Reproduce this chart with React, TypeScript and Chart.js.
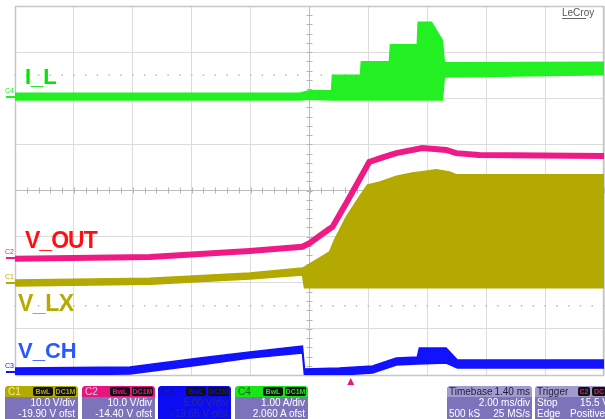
import React, { useEffect, useRef } from "react";
import { Chart, registerables } from "chart.js";

Chart.register(...registerables);

// ---------- scope settings ----------
const channelNames = ["C1", "C2", "C3", "C4"];
const channelScales = [10, 10, 5, 1]; // per division
const channelOffsets = [-19.9, -14.4, -19.65, 2.06];
const channelUnits = ["V", "V", "V", "A"];
const timePerDiv = 2.0; // ms/div
const triggerDelay = 1.4; // ms
const triggerLevel = 15.5; // V
const sampleCount = "500 kS";
const sampleRate = "25 MS/s";

// ---------- C1 : V_LX (V) ----------
const lxTime = [-10, -5.42, -2.03, -0.24, -0.17, 0.68, 0.85, 1.25, 1.69, 1.97, 2.37, 2.95, 3.49, 4.31, 4.75, 4.98, 5.76, 10];
const lxHigh = [0.5, 0.9, 2.0, 3.1, 3.3, 6.6, 9.2, 14.2, 18.5, 21.1, 21.7, 23.0, 23.7, 24.4, 23.9, 23.3, 23.3, 23.3];
const lxLow = [-0.8, -0.4, 0.7, 1.6, -1.2, -1.2, -1.2, -1.2, -1.2, -1.2, -1.2, -1.2, -1.2, -1.2, -1.2, -1.2, -1.2, -1.2];

// ---------- C2 : V_OUT (V) ----------
const outTime = [-10, -5.42, -2.03, -0.24, 0, 0.68, 0.78, 1.25, 2.03, 2.54, 2.95, 3.83, 4.64, 4.98, 5.76, 10];
const outValue = [-0.4, 0.0, 1.3, 2.2, 3.0, 6.1, 6.5, 11.7, 20.6, 21.7, 22.5, 23.6, 23.2, 22.5, 22.1, 21.9];

// ---------- C3 : V_CH (V) ----------
const chTime = [-10, -6.1, -3.73, -2.03, -0.24, -0.17, 1.02, 2.14, 2.95, 3.66, 3.73, 4.64, 5.02, 10];
const chHigh = [0.4, 0.51, 1.49, 2.14, 2.79, 0.29, 0.4, 0.62, 1.49, 1.59, 2.57, 2.57, 1.27, 1.27];
const chLow = [-0.36, -0.25, 0.73, 1.49, 2.03, -0.47, -0.36, -0.14, 0.73, 0.83, 0.83, 0.94, 0.4, 0.4];

// ---------- C4 : I_L (A) ----------
const ilTime = [-10, -0.34, 0, 0.75, 0.78, 1.73, 1.76, 2.71, 2.75, 3.66, 3.69, 4.14, 4.51, 4.58, 10];
const ilHigh = [0.05, 0.05, 0.1, 0.1, 0.44, 0.44, 0.73, 0.73, 1.1, 1.1, 1.59, 1.59, 1.2, 0.71, 0.72];
const ilLow = [-0.1, -0.1, -0.08, -0.1, -0.1, -0.1, -0.1, -0.1, -0.1, -0.1, -0.1, -0.1, -0.1, 0.4, 0.45];

// ---------- styles ----------
const COL_LX = "#b3a900";
const COL_OUT = "#f01a86";
const COL_CH = "#1212ff";
const COL_IL = "#22f022";
const FONT = '"Liberation Sans", Arial, Helvetica, sans-serif';
const hdrColors = ["#b3ab00", "#e4177f", "#0b0bf5", "#18e618"];
const nameColors = ["#f2ec98", "#ffc2e2", "#141478", "#0b6a0b"];
const boxLefts = [5, 82, 158, 235];

const pts = (t: number[], v: number[]) => t.map((x, i) => ({ x, y: v[i] }));

function band(t: number[], hi: number[], lo: number[], color: string, axis: string, w: number) {
  const base = {
    borderColor: color,
    backgroundColor: color,
    borderWidth: w,
    pointRadius: 0,
    tension: 0,
    yAxisID: axis,
    xAxisID: "x",
  };
  return [
    { ...base, data: pts(t, hi), fill: false },
    { ...base, data: pts(t, lo), fill: "-1" },
  ];
}

const chAxis = (i: number) => ({
  type: "linear" as const,
  display: false,
  min: -channelOffsets[i] - 4 * channelScales[i],
  max: -channelOffsets[i] + 4 * channelScales[i],
});

const scopePlugin = {
  id: "scopeDecor",
  beforeDatasetsDraw(chart: any) {
    const { ctx, chartArea: a, scales } = chart;
    const xs = scales.x;
    const ys = scales.yg;
    const cx = xs.getPixelForValue(0);
    const cy = ys.getPixelForValue(0);
    ctx.save();
    ctx.strokeStyle = "#b4b4b4";
    ctx.lineWidth = 1;
    ctx.beginPath();
    for (let k = -20; k <= 20; k++) {
      const y = Math.round(ys.getPixelForValue(k / 5)) + 0.5;
      ctx.moveTo(cx - 3, y);
      ctx.lineTo(cx + 3, y);
    }
    for (let k = -25; k <= 25; k++) {
      const x = Math.round(xs.getPixelForValue((k / 5) * timePerDiv)) + 0.5;
      ctx.moveTo(x, cy - 3);
      ctx.lineTo(x, cy + 3);
    }
    ctx.stroke();
    ctx.fillStyle = "#b8b8b8";
    for (const r of [2.5, -2.5]) {
      const y = ys.getPixelForValue(r);
      for (let k = -25; k <= 25; k++) {
        const x = xs.getPixelForValue((k / 5) * timePerDiv);
        ctx.fillRect(x - 0.75, y - 0.75, 1.5, 1.5);
      }
    }
    ctx.strokeStyle = "#c6c6c6";
    ctx.lineWidth = 1.5;
    ctx.strokeRect(a.left + 0.5, a.top + 0.5, a.right - a.left - 1, a.bottom - a.top);
    ctx.restore();
  },
  afterDraw(chart: any) {
    const { ctx, chartArea: a, scales } = chart;
    const x = scales.x.getPixelForValue(triggerDelay);
    ctx.save();
    ctx.fillStyle = "#e8157f";
    ctx.beginPath();
    ctx.moveTo(x, a.bottom + 3);
    ctx.lineTo(x - 3.5, a.bottom + 10);
    ctx.lineTo(x + 3.5, a.bottom + 10);
    ctx.closePath();
    ctx.fill();
    ctx.restore();
  },
};

function ChannelBox({ i }: { i: number }) {
  const isC3 = i === 2;
  const vdiv = `${channelScales[i].toPrecision(3)} ${channelUnits[i]}/div`;
  const ofst = `${channelOffsets[i].toPrecision(4)} ${channelUnits[i]} ofst`;
  const badge = (left: number, width: number, text: string) => (
    <span
      style={{
        position: "absolute",
        left,
        top: 1,
        width,
        height: 9,
        background: "#111",
        borderRadius: 2,
        color: hdrColors[i],
        fontSize: 7,
        lineHeight: "9px",
        textAlign: "center",
        fontWeight: "bold",
      }}
    >
      {text}
    </span>
  );
  return (
    <div
      style={{
        position: "absolute",
        left: boxLefts[i],
        top: 386,
        width: 73,
        height: 40,
        borderRadius: 4,
        background: isC3 ? "#0c0cf0" : "#7c73ba",
        overflow: "hidden",
      }}
    >
      <div style={{ position: "relative", height: 11, background: hdrColors[i] }}>
        <span style={{ position: "absolute", left: 3, top: 0, fontSize: 10, lineHeight: "11px", color: nameColors[i] }}>
          {channelNames[i]}
        </span>
        {badge(28, 20, "BwL")}
        {badge(50, 21, "DC1M")}
      </div>
      <div
        style={{
          textAlign: "right",
          paddingRight: 3,
          fontSize: 10,
          lineHeight: "11px",
          color: isC3 ? "#2a2a9c" : "#ffffff",
          whiteSpace: "nowrap",
        }}
      >
        <div>{vdiv}</div>
        <div>{ofst}</div>
      </div>
    </div>
  );
}

function Row({ l, r, top }: { l: string; r: string; top: number }) {
  return (
    <div style={{ position: "absolute", left: 2, right: 2, top, height: 11, fontSize: 10, lineHeight: "11px", color: "#fff", whiteSpace: "nowrap" }}>
      <span style={{ position: "absolute", left: 0 }}>{l}</span>
      <span style={{ position: "absolute", right: 0 }}>{r}</span>
    </div>
  );
}

function Label({ text, left, top, color, size, ls }: any) {
  return (
    <div
      style={{
        position: "absolute",
        left,
        top,
        color,
        fontSize: size,
        lineHeight: 1,
        fontWeight: "bold",
        letterSpacing: ls,
        whiteSpace: "nowrap",
      }}
    >
      {text}
    </div>
  );
}

function Marker({ name, top, color }: any) {
  return (
    <>
      <div style={{ position: "absolute", left: 5, top: top - 10, fontSize: 7, lineHeight: "8px", color }}>{name}</div>
      <div style={{ position: "absolute", left: 6, top: top - 1, width: 9, height: 2, background: color }} />
    </>
  );
}

export default function App() {
  const ref = useRef<HTMLCanvasElement | null>(null);

  useEffect(() => {
    document.body.style.margin = "0";
    if (!ref.current) return;
    const chart = new Chart(ref.current, {
      type: "line",
      data: {
        datasets: [
          ...band(lxTime, lxHigh, lxLow, COL_LX, "y1", 1.5),
          {
            data: pts(outTime, outValue),
            borderColor: COL_OUT,
            backgroundColor: COL_OUT,
            borderWidth: 6,
            pointRadius: 0,
            tension: 0,
            fill: false,
            yAxisID: "y2",
            xAxisID: "x",
          },
          ...band(chTime, chHigh, chLow, COL_CH, "y3", 1.5),
          ...band(ilTime, ilHigh, ilLow, COL_IL, "y4", 1.5),
        ] as any,
      },
      options: {
        animation: false,
        responsive: false,
        events: [],
        layout: { padding: { left: 15, top: 6, right: 1, bottom: 44 } },
        plugins: { legend: { display: false }, tooltip: { enabled: false } },
        scales: {
          x: {
            type: "linear",
            min: -5 * timePerDiv,
            max: 5 * timePerDiv,
            ticks: { display: false, stepSize: timePerDiv },
            grid: {
              drawTicks: false,
              color: (c: any) => (c.tick && c.tick.value === 0 ? "#bdbdbd" : "#dcdcdc"),
            },
            border: { display: false },
          },
          yg: {
            type: "linear",
            position: "left",
            min: -4,
            max: 4,
            ticks: { display: false, stepSize: 1 },
            grid: {
              drawTicks: false,
              color: (c: any) => (c.tick && c.tick.value === 0 ? "#bdbdbd" : "#dcdcdc"),
            },
            border: { display: false },
          },
          y1: chAxis(0),
          y2: chAxis(1),
          y3: chAxis(2),
          y4: chAxis(3),
        } as any,
      },
      plugins: [scopePlugin],
    });
    return () => chart.destroy();
  }, []);

  return (
    <div style={{ position: "relative", width: 605, height: 419, background: "#fff", overflow: "hidden", fontFamily: FONT }}>
      <canvas ref={ref} width={605} height={419} style={{ position: "absolute", left: 0, top: 0 }} />

      <div style={{ position: "absolute", left: 562, top: 7, fontSize: 10, lineHeight: "12px", color: "#555" }}>LeCroy</div>
      <div style={{ position: "absolute", left: 562, top: 18, width: 24, height: 1, background: "#666" }} />

      <Label text="I_L" left={25} top={66} color="#00e800" size={22} ls={0} />
      <Label text="V_OUT" left={25} top={229} color="#ff1010" size={23} ls={-1} />
      <Label text="V_LX" left={18} top={292} color="#b4aa00" size={23} ls={-0.5} />
      <Label text="V_CH" left={18} top={340} color="#2a5aff" size={22} ls={0} />

      <Marker name="C4" top={97} color={COL_IL} />
      <Marker name="C2" top={258} color={COL_OUT} />
      <Marker name="C1" top={283} color={COL_LX} />
      <Marker name="C3" top={372} color={COL_CH} />

      {[0, 1, 2, 3].map((i) => (
        <ChannelBox key={i} i={i} />
      ))}

      <div style={{ position: "absolute", left: 447, top: 386, width: 85, height: 40, borderRadius: 4, background: "#7c73ba", overflow: "hidden" }}>
        <div style={{ position: "absolute", left: 0, top: 0, right: 0, height: 11, background: "#a29bd2" }} />
        <div style={{ position: "absolute", left: 2, right: 2, top: 0, height: 11, fontSize: 10, lineHeight: "11px", color: "#1e1e30", whiteSpace: "nowrap" }}>
          <span style={{ position: "absolute", left: 0 }}>Timebase</span>
          <span style={{ position: "absolute", right: 0 }}>{`${triggerDelay.toFixed(2)} ms`}</span>
        </div>
        <Row l="" r={`${timePerDiv.toFixed(2)} ms/div`} top={11} />
        <Row l={sampleCount} r={sampleRate} top={22} />
      </div>

      <div style={{ position: "absolute", left: 535, top: 386, width: 74, height: 40, borderRadius: 4, background: "#7c73ba", overflow: "hidden" }}>
        <div style={{ position: "absolute", left: 0, top: 0, right: 0, height: 11, background: "#a29bd2" }} />
        <span style={{ position: "absolute", left: 2, top: 0, fontSize: 10, lineHeight: "11px", color: "#1e1e30" }}>Trigger</span>
        <span style={{ position: "absolute", left: 43, top: 1, width: 12, height: 9, background: "#111", borderRadius: 2, color: hdrColors[1], fontSize: 7, lineHeight: "9px", textAlign: "center", fontWeight: "bold" }}>C2</span>
        <span style={{ position: "absolute", left: 57, top: 1, width: 14, height: 9, background: "#111", borderRadius: 2, color: hdrColors[1], fontSize: 7, lineHeight: "9px", textAlign: "center", fontWeight: "bold" }}>DC</span>
        <div style={{ position: "absolute", left: 2, width: 68, top: 11, height: 11, fontSize: 10, lineHeight: "11px", color: "#fff", whiteSpace: "nowrap" }}>
          <span style={{ position: "absolute", left: 0 }}>Stop</span>
          <span style={{ position: "absolute", right: -4 }}>{`${triggerLevel.toFixed(1)} V`}</span>
        </div>
        <div style={{ position: "absolute", left: 2, width: 68, top: 22, height: 11, fontSize: 10, lineHeight: "11px", color: "#fff", whiteSpace: "nowrap" }}>
          <span style={{ position: "absolute", left: 0 }}>Edge</span>
          <span style={{ position: "absolute", right: 0 }}>Positive</span>
        </div>
      </div>
    </div>
  );
}
